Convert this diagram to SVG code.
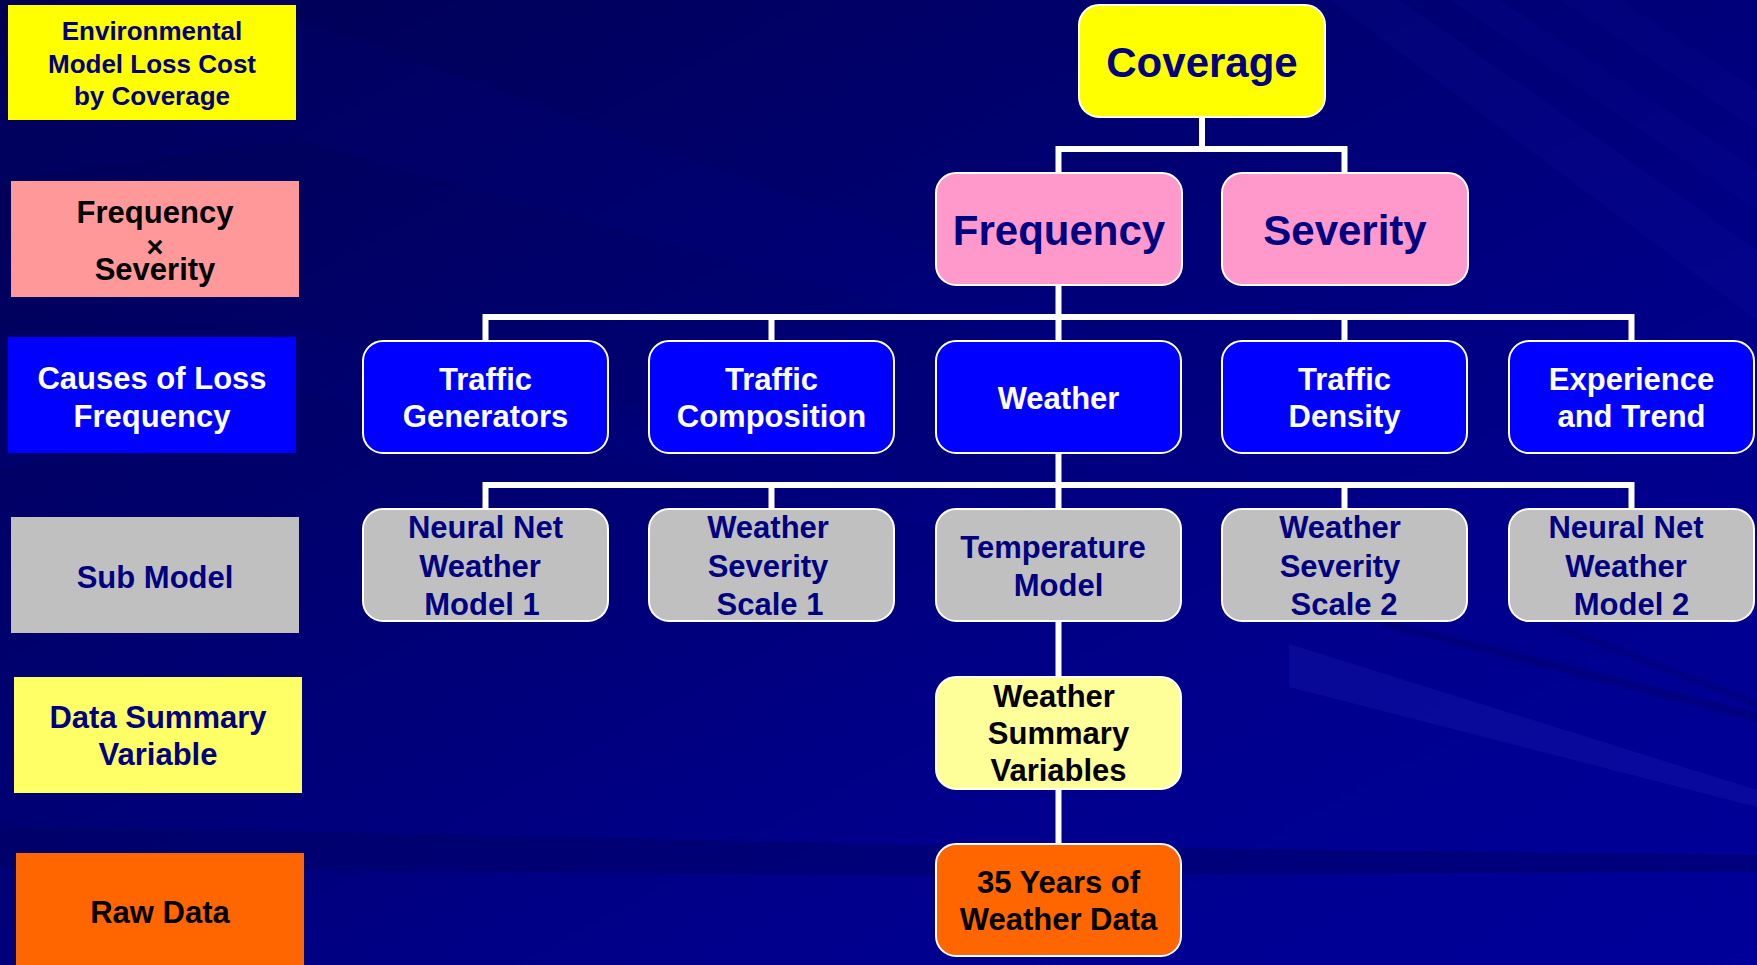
<svg xmlns="http://www.w3.org/2000/svg" width="1757" height="965" viewBox="0 0 1757 965">
<defs>
<linearGradient id="bg" x1="0" y1="0" x2="1" y2="1">
<stop offset="0" stop-color="#000052"/>
<stop offset="0.35" stop-color="#00006e"/>
<stop offset="0.7" stop-color="#00008c"/>
<stop offset="1" stop-color="#00009a"/>
</linearGradient>
<style>
text{font-family:"Liberation Sans",Arial,sans-serif;font-weight:bold;text-anchor:middle}
.lbl{font-size:31px}
.nd{stroke:#ffffff;stroke-width:2}
.big{font-size:42px;fill:#000080}
.t31{font-size:31px}
.w{fill:#ffffff}
.n{fill:#000080}
.k{fill:#000000}
.con{fill:none;stroke:#ffffff;stroke-width:6}
</style>
</defs>
<rect width="1757" height="965" fill="url(#bg)"/>
<g id="streaks">
<polygon points="0,60 300,20 1080,300 1080,360 300,140 0,180" fill="#0000a0" opacity="0.1"/>
<polygon points="0,400 300,330 1080,520 1080,560 300,390 0,470" fill="#0000a0" opacity="0.08"/>
<polygon points="1330,0 1400,0 1757,250 1757,320" fill="#2a2ad0" opacity="0.07"/>
<polygon points="1450,0 1500,0 1757,170 1757,210" fill="#2a2ad0" opacity="0.06"/>
<polygon points="1560,0 1620,0 1757,90 1757,130" fill="#2a2ad0" opacity="0.06"/>
<polygon points="1289,644 1757,790 1757,807 1289,687" fill="#2424b8" opacity="0.25"/>
<polygon points="1382,619 1757,712 1757,722 1382,627" fill="#000060" opacity="0.35"/>
<polygon points="1548,620 1757,700 1757,708 1548,626" fill="#000060" opacity="0.3"/>
<polygon points="0,825 920,845 1757,855 1757,872 920,875 0,868" fill="#000060" opacity="0.45"/>
</g>
<g id="legend-coverage"><rect x="8" y="5" width="288" height="115" fill="#FFFF00"/><text class="n" style="font-size:26px" x="152" y="40">Environmental</text><text class="n" style="font-size:26px" x="152" y="72.5">Model Loss Cost</text><text class="n" style="font-size:26px" x="152" y="104.5">by Coverage</text></g>
<g id="legend-freqsev"><rect x="11" y="181" width="288" height="116" fill="#FF9999"/><text class="lbl k" x="155" y="223">Frequency<tspan x="155" y="257" style="font-size:29px">×</tspan><tspan x="155" y="280">Severity</tspan></text></g>
<g id="legend-causes"><rect x="8" y="337" width="288" height="116" fill="#0000FF"/><text class="lbl w" x="152" y="389">Causes of Loss</text><text class="lbl w" x="152" y="427">Frequency</text></g>
<g id="legend-sub"><rect x="11" y="517" width="288" height="116" fill="#C0C0C0"/><text class="lbl n" x="155" y="588">Sub Model</text></g>
<g id="legend-data"><rect x="14" y="677" width="288" height="116" fill="#FFFF66"/><text class="lbl n" x="158" y="728">Data Summary</text><text class="lbl n" x="158" y="765">Variable</text></g>
<g id="legend-raw"><rect x="16" y="853" width="288" height="115" fill="#FF6600"/><text class="lbl k" x="160" y="923">Raw Data</text></g>
<g id="connectors">
<path class="con" d="M1202,117 V149 M1058.5,173 V149 H1344.5 V173"/>
<path class="con" d="M1058.5,285 V341 M485.5,341 V317 H1631.5 V341 M771.5,317 V341 M1344.5,317 V341"/>
<path class="con" d="M1058.5,453 V509 M485.5,509 V485 H1631.5 V509 M771.5,485 V509 M1344.5,485 V509"/>
<path class="con" d="M1058.5,621 V677 M1058.5,789 V844"/>
</g>
<g id="coverage"><rect class="nd" x="1079" y="5" width="246" height="112" rx="20" fill="#FFFF00"/><text class="big" x="1202" y="77">Coverage</text></g>
<g id="frequency"><rect class="nd" x="936" y="173" width="246" height="112" rx="20" fill="#FF99CC"/><text class="big" x="1059" y="245">Frequency</text></g>
<g id="severity"><rect class="nd" x="1222" y="173" width="246" height="112" rx="20" fill="#FF99CC"/><text class="big" x="1345" y="245">Severity</text></g>
<g id="traffic-generators"><rect class="nd" x="363" y="341" width="245" height="112" rx="20" fill="#0000FF"/><text class="t31 w" x="485.5" y="390">Traffic</text><text class="t31 w" x="485.5" y="427">Generators</text></g>
<g id="traffic-composition"><rect class="nd" x="649" y="341" width="245" height="112" rx="20" fill="#0000FF"/><text class="t31 w" x="771.5" y="390">Traffic</text><text class="t31 w" x="771.5" y="427">Composition</text></g>
<g id="weather"><rect class="nd" x="936" y="341" width="245" height="112" rx="20" fill="#0000FF"/><text class="t31 w" x="1058.5" y="409">Weather</text></g>
<g id="traffic-density"><rect class="nd" x="1222" y="341" width="245" height="112" rx="20" fill="#0000FF"/><text class="t31 w" x="1344.5" y="390">Traffic</text><text class="t31 w" x="1344.5" y="427">Density</text></g>
<g id="experience"><rect class="nd" x="1509" y="341" width="245" height="112" rx="20" fill="#0000FF"/><text class="t31 w" x="1631.5" y="390">Experience</text><text class="t31 w" x="1631.5" y="427">and Trend</text></g>
<g id="nn1"><rect class="nd" x="363" y="509" width="245" height="112" rx="20" fill="#C0C0C0"/><text class="t31 n" x="485.5" y="538">Neural Net</text><text class="t31 n" x="480" y="577">Weather</text><text class="t31 n" x="482" y="615">Model 1</text></g>
<g id="wss1"><rect class="nd" x="649" y="509" width="245" height="112" rx="20" fill="#C0C0C0"/><text class="t31 n" x="768" y="538">Weather</text><text class="t31 n" x="768" y="577">Severity</text><text class="t31 n" x="770" y="615">Scale 1</text></g>
<g id="temperature"><rect class="nd" x="936" y="509" width="245" height="112" rx="20" fill="#C0C0C0"/><text class="t31 n" x="1053" y="558">Temperature</text><text class="t31 n" x="1058.5" y="596">Model</text></g>
<g id="wss2"><rect class="nd" x="1222" y="509" width="245" height="112" rx="20" fill="#C0C0C0"/><text class="t31 n" x="1340" y="538">Weather</text><text class="t31 n" x="1340" y="577">Severity</text><text class="t31 n" x="1344" y="615">Scale 2</text></g>
<g id="nn2"><rect class="nd" x="1509" y="509" width="245" height="112" rx="20" fill="#C0C0C0"/><text class="t31 n" x="1626" y="538">Neural Net</text><text class="t31 n" x="1626" y="577">Weather</text><text class="t31 n" x="1631.5" y="615">Model 2</text></g>
<g id="summary"><rect class="nd" x="936" y="677" width="245" height="112" rx="20" fill="#FFFF99"/><text class="t31 k" x="1054" y="707">Weather</text><text class="t31 k" x="1058.5" y="744">Summary</text><text class="t31 k" x="1058.5" y="781">Variables</text></g>
<g id="rawdata"><rect class="nd" x="936" y="844" width="245" height="112" rx="20" fill="#FF6600"/><text class="t31 k" x="1058.5" y="893">35 Years of</text><text class="t31 k" x="1058.5" y="930">Weather Data</text></g>
</svg>
